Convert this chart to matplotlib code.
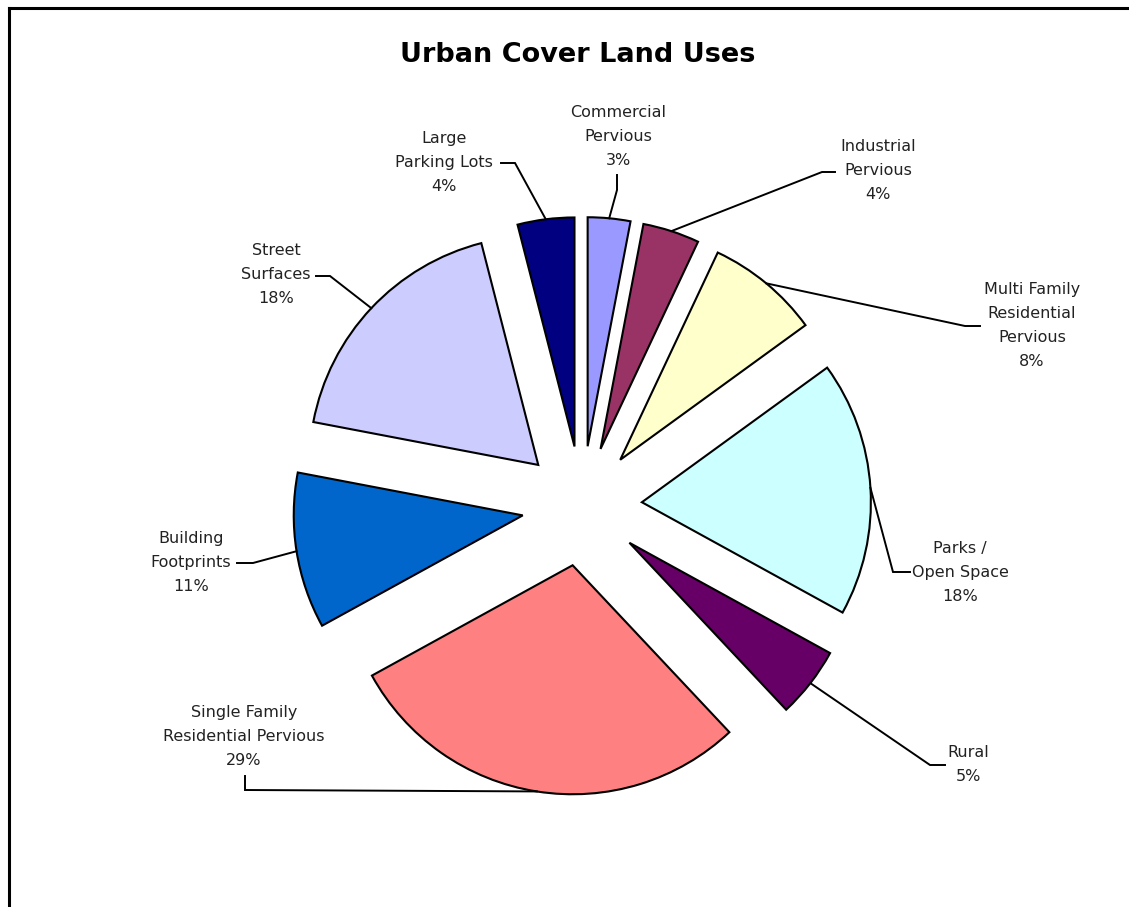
import numpy as np
import matplotlib
matplotlib.use("Agg")
import matplotlib.pyplot as plt
from matplotlib.lines import Line2D
from matplotlib.font_manager import FontProperties

# ---------------- data ----------------
categories = [
    "Commercial\nPervious",
    "Industrial\nPervious",
    "Multi Family\nResidential\nPervious",
    "Parks /\nOpen Space",
    "Rural",
    "Single Family\nResidential Pervious",
    "Building\nFootprints",
    "Street\nSurfaces",
    "Large\nParking Lots",
]
values = [3, 4, 8, 18, 5, 29, 11, 18, 4]
colors = ["#9999FF", "#993366", "#FFFFCC", "#CCFFFF", "#660066",
          "#FF8080", "#0066CC", "#CCCCFF", "#000080"]
title = "Urban Cover Land Uses"

# ---------------- layout (pixel coordinates, y down) ----------------
W, H = 1129, 907
pie_center = (582, 506)
pie_radius = 229
explode_px = 60
label_pos = [(618, 136.7), (878, 170.7), (1032, 325.7), (960, 572.7), (968, 764.7),
             (244, 736.7), (191, 562.7), (276, 274.7), (444, 162.7)]
leader_start = [(617, 175), (835, 172), (980, 326), (910, 572), (945, 765),
                (245, 776), (237, 563), (316, 276), (501, 163)]
leader_elbow = [(617, 190), (822, 172), (965, 326), (893, 572), (930, 765),
                (245, 790), (253, 563), (330, 276), (515, 163)]
line_step = 24  # px between label baselines

fig = plt.figure(figsize=(W / 100, H / 100), dpi=100)
ax = fig.add_axes([0, 0, 1, 1])


def Y(y):
    return H - y


wedges, _ = ax.pie(
    values,
    colors=colors,
    startangle=90,
    counterclock=False,
    center=(pie_center[0], Y(pie_center[1])),
    radius=pie_radius,
    explode=[explode_px] * len(values),
    wedgeprops=dict(edgecolor="black", linewidth=1.5),
    frame=False,
)
ax.set_xlim(0, W)
ax.set_ylim(0, H)
ax.set_aspect("auto")
ax.axis("off")

# label font & line spacing
fp = FontProperties(family="DejaVu Sans", size=11.5)
renderer = fig.canvas.get_renderer()
_, lp_h, lp_d = renderer.get_text_width_height_descent("lp", fp, ismath=False)
ls = (line_step - lp_d) / (lp_h - lp_d)

for w, lab, (lx, ly), (sx, sy), (ex, ey) in zip(
        wedges, categories, label_pos, leader_start, leader_elbow):
    frac = abs(w.theta2 - w.theta1) / 360.0
    text = f"{lab}\n{round(frac * 100):d}%"
    ax.text(lx, Y(ly), text, ha="center", va="center", fontproperties=fp,
            color="#222222", linespacing=ls, multialignment="center")
    tm = np.deg2rad((w.theta1 + w.theta2) / 2)
    cx, cy = w.center
    px = cx + w.r * np.cos(tm)
    py = cy + w.r * np.sin(tm)
    ax.plot([sx, ex, px], [Y(sy), Y(ey), py], color="black", lw=1.4,
            solid_joinstyle="miter", zorder=5)

ax.text(578, Y(62), title, ha="center", va="baseline",
        fontsize=19.5, fontweight="bold", family="DejaVu Sans", color="black")

# outer frame (top and left edges)
fig.add_artist(Line2D([9 / W, 1.0], [1 - 8 / H, 1 - 8 / H],
                      transform=fig.transFigure, color="black", lw=2.2))
fig.add_artist(Line2D([9 / W, 9 / W], [1 - 8 / H, 0.0],
                      transform=fig.transFigure, color="black", lw=2.2))

fig.savefig("out.png", dpi=100, facecolor="white")
